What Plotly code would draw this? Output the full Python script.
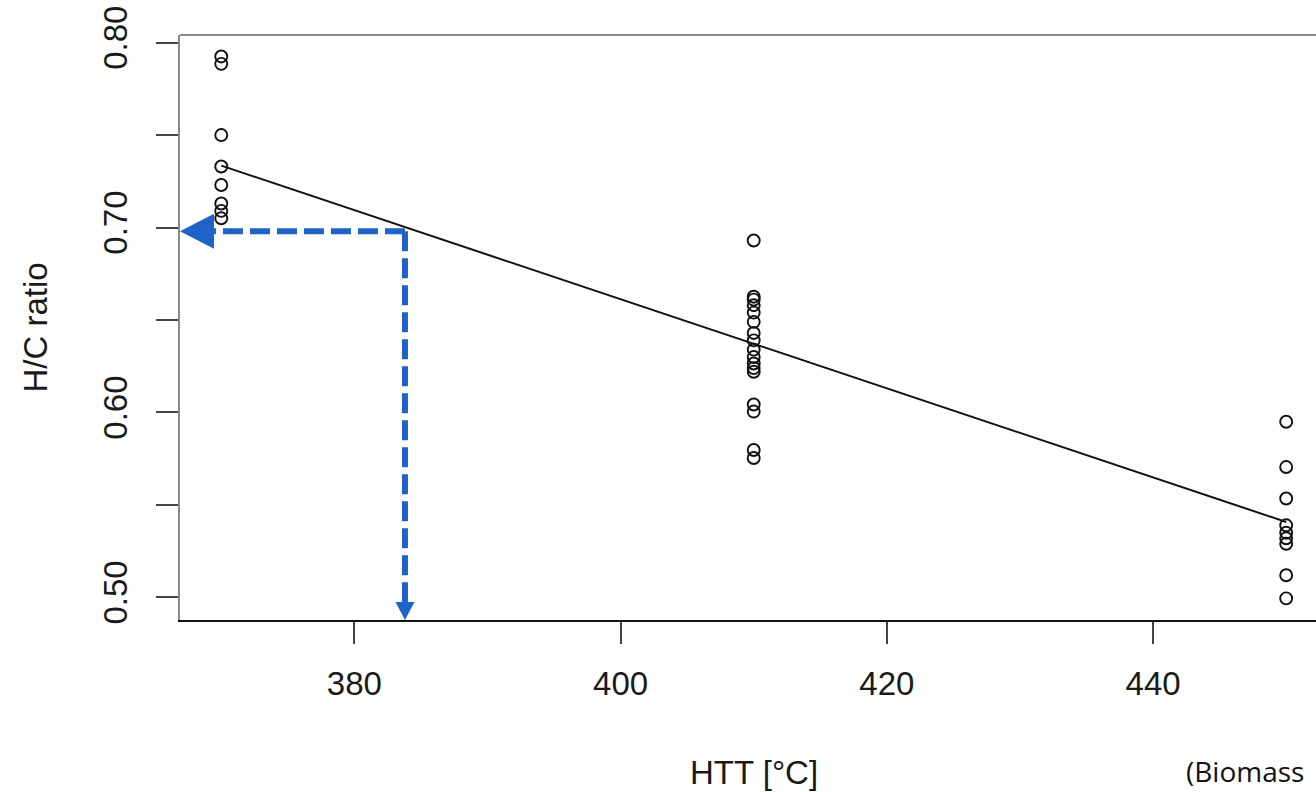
import plotly.graph_objects as go

# ---------------- data ----------------
HTT_LEVELS = [370, 410, 450]
HC_370 = [0.7925, 0.7885, 0.750, 0.733, 0.723, 0.713, 0.709, 0.705]
HC_410 = [0.693, 0.6626, 0.6610, 0.6580, 0.6540, 0.6490, 0.6430, 0.6390,
          0.6340, 0.6300, 0.6265, 0.6240, 0.6220, 0.6043, 0.6005, 0.5797, 0.5754]
HC_450 = [0.595, 0.5705, 0.5535, 0.539, 0.535, 0.532, 0.529, 0.512, 0.4995]
FIT_X = [370, 450]
FIT_Y = [0.7335, 0.5408]
ARROW_X = 383.8      # HTT
ARROW_Y = 0.698      # H/C target
X_TICKS = [380, 400, 420, 440]
Y_TICKS = [0.50, 0.55, 0.60, 0.65, 0.70, 0.75, 0.80]
Y_TICKTEXT = ["0.50", "", "0.60", "", "0.70", "", "0.80"]

# ---------------- layout constants ----------------
W, H = 1316, 792
ML, MR, MT, MB = 180, 0, 35, 172
XRANGE = [366.9, 452.24]
YRANGE = [0.4878, 0.8041]
PW, PH = W - ML - MR, H - MT - MB
PX_X = PW / (XRANGE[1] - XRANGE[0])
PX_Y = PH / (YRANGE[1] - YRANGE[0])
BLUE = "#1F63C8"
FONT = "Liberation Sans, Arial, sans-serif"

xs, ys = [], []
for lvl, vals in zip(HTT_LEVELS, [HC_370, HC_410, HC_450]):
    xs += [lvl] * len(vals)
    ys += vals

fig = go.Figure()
fig.add_trace(go.Scatter(
    x=xs, y=ys, mode="markers",
    marker=dict(symbol="circle-open", size=12, color="#111",
                line=dict(width=1.9, color="#111")),
    showlegend=False, hoverinfo="x+y"))
fig.add_trace(go.Scatter(
    x=FIT_X, y=FIT_Y, mode="lines",
    line=dict(color="#111", width=2), showlegend=False))

HEAD_L, HEAD_HW = 34, 17.5     # left arrowhead (px)
HEAD_D, HEAD_DW = 18, 9.5      # down arrowhead (px)
shapes = [
    # top border of the box
    dict(type="line", xref="paper", yref="paper", x0=0, x1=1, y0=1, y1=1,
         line=dict(color="#8a8a8a", width=2.2)),
    # horizontal dashed arrow line
    dict(type="line", xref="x", yref="y",
         x0=ARROW_X, x1=XRANGE[0] + HEAD_L / PX_X, y0=ARROW_Y, y1=ARROW_Y,
         line=dict(color=BLUE, width=6, dash="20px,7px")),
    # vertical dashed arrow line
    dict(type="line", xref="x", yref="y",
         x0=ARROW_X, x1=ARROW_X, y0=ARROW_Y, y1=YRANGE[0] + HEAD_D / PX_Y,
         line=dict(color=BLUE, width=6, dash="20px,7px")),
    # left arrowhead
    dict(type="path", xref="x", yref="y", xsizemode="pixel", ysizemode="pixel",
         xanchor=XRANGE[0], yanchor=ARROW_Y,
         path=f"M0,0 L{HEAD_L},{HEAD_HW} L{HEAD_L},{-HEAD_HW} Z",
         fillcolor=BLUE, line=dict(width=0)),
    # down arrowhead
    dict(type="path", xref="x", yref="y", xsizemode="pixel", ysizemode="pixel",
         xanchor=ARROW_X, yanchor=YRANGE[0],
         path=f"M0,0 L{-HEAD_DW},{HEAD_D} L{HEAD_DW},{HEAD_D} Z",
         fillcolor=BLUE, line=dict(width=0)),
]

annotations = [
    dict(text="HTT [°C]", xref="paper", yref="paper",
         x=(754 - ML) / PW, y=(MT + PH - 772) / PH, showarrow=False,
         xanchor="center", yanchor="middle",
         font=dict(family=FONT, size=33, color="#1a1a1a")),
    dict(text="H/C ratio", xref="paper", yref="paper",
         x=(35 - ML) / PW, y=0.5, showarrow=False, textangle=-90,
         xanchor="center", yanchor="middle",
         font=dict(family=FONT, size=33, color="#1a1a1a")),
    dict(text="(Biomass", xref="paper", yref="paper",
         x=(1184 - ML) / PW, y=(MT + PH - 771) / PH, showarrow=False,
         xanchor="left", yanchor="middle",
         font=dict(family="Open Sans, sans-serif", size=28, color="#111")),
]

fig.update_layout(
    width=W, height=H,
    margin=dict(l=ML, r=MR, t=MT, b=MB, pad=0),
    paper_bgcolor="white", plot_bgcolor="white",
    font=dict(family=FONT, size=33, color="#1a1a1a"),
    shapes=shapes, annotations=annotations,
    xaxis=dict(range=XRANGE, tickvals=X_TICKS, ticks="outside", ticklen=22,
               tickwidth=2, tickcolor="#444", showgrid=False, zeroline=False,
               showline=True, linecolor="#111", linewidth=2.4,
               ticklabelstandoff=11, tickfont=dict(size=33)),
    yaxis=dict(range=YRANGE, tickvals=Y_TICKS, ticktext=Y_TICKTEXT,
               ticks="outside", ticklen=22, tickwidth=2, tickcolor="#444",
               showgrid=False, zeroline=False, showline=True,
               linecolor="#8a8a8a", linewidth=2.4, tickangle=-90,
               ticklabelstandoff=16, tickfont=dict(size=33)),
)

fig.write_html(
    "out.html",
    config={"displayModeBar": False},
    post_script="document.body.style.margin='0';document.body.style.overflow='hidden';",
)
